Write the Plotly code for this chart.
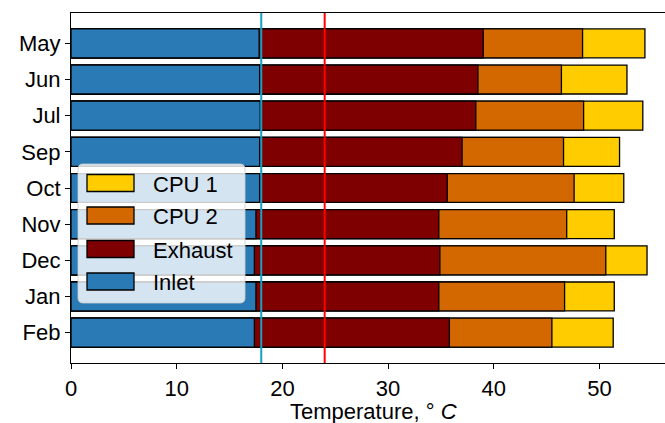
import plotly.graph_objects as go

# ---- data ----
months = ["May", "Jun", "Jul", "Sep", "Oct", "Nov", "Dec", "Jan", "Feb"]
inlet = [17.8, 17.85, 17.9, 17.85, 17.85, 17.5, 17.35, 17.5, 17.35]
exhaust = [39.0, 38.5, 38.3, 37.0, 35.6, 34.8, 34.9, 34.8, 35.8]
cpu2 = [48.4, 46.4, 48.5, 46.6, 47.6, 46.9, 50.6, 46.7, 45.5]
cpu1 = [54.3, 52.6, 54.1, 51.9, 52.3, 51.4, 54.5, 51.4, 51.3]
series_names = ["CPU 1", "CPU 2", "Exhaust", "Inlet"]
series_values = [cpu1, cpu2, exhaust, inlet]
ref_lines = [18, 24]
x_ticks = [0, 10, 20, 30, 40, 50]
x_title = "Temperature, ° <i>C</i>"

colors = {"CPU 1": "#ffcc00", "CPU 2": "#d46800", "Exhaust": "#7f0000", "Inlet": "#2a7ab5"}
line_colors = ["#17a0c4", "#ff0000"]

W, H = 665, 423
L, R, T, B = 71, 0, 13, 60
FONT = "Liberation Sans, Arial, Helvetica, sans-serif"
FS = 22

fig = go.Figure()
for name, vals in zip(series_names, series_values):
    fig.add_trace(go.Bar(
        y=months, x=vals, orientation="h", name=name,
        marker=dict(color=colors[name], line=dict(color="black", width=1.3)),
        showlegend=False,
    ))

shapes = []
for v, c in zip(ref_lines, line_colors):
    shapes.append(dict(type="line", xref="x", yref="paper", x0=v, x1=v, y0=0, y1=1,
                       line=dict(color=c, width=2), layer="above"))

# custom legend (pixel layout -> paper coords)
pw = W - L - R
ph = H - T - B
def px2x(px):
    return (px - L) / pw
def py2y(py):
    return (H - B - py) / ph

lx0, lx1, ly0, ly1 = 78, 245, 164, 303
r = 5
rx, ry = r / pw, r / ph
X0, X1, Y0, Y1 = px2x(lx0), px2x(lx1), py2y(ly1), py2y(ly0)
path = (f"M {X0+rx},{Y0} L {X1-rx},{Y0} Q {X1},{Y0} {X1},{Y0+ry} "
        f"L {X1},{Y1-ry} Q {X1},{Y1} {X1-rx},{Y1} L {X0+rx},{Y1} "
        f"Q {X0},{Y1} {X0},{Y1-ry} L {X0},{Y0+ry} Q {X0},{Y0} {X0+rx},{Y0} Z")
shapes.append(dict(type="path", xref="paper", yref="paper", path=path,
                   fillcolor="rgba(255,255,255,0.8)", line=dict(color="rgba(204,204,204,0.8)", width=1),
                   layer="above"))

annotations = []
centers = [183, 215.5, 249, 281.5]
for name, cy in zip(series_names, centers):
    shapes.append(dict(type="rect", xref="paper", yref="paper",
                       x0=px2x(87), x1=px2x(134), y0=py2y(cy + 8.5), y1=py2y(cy - 8.5),
                       fillcolor=colors[name], line=dict(color="black", width=1.3), layer="above"))
    annotations.append(dict(xref="paper", yref="paper", x=px2x(151), y=py2y(cy + 1),
                            text=name, showarrow=False, xanchor="left", yanchor="middle",
                            font=dict(family=FONT, size=FS, color="black")))

# x-axis title as annotation centred under the visible axis
annotations.append(dict(xref="paper", yref="paper", x=px2x(288), y=py2y(411),
                        text=x_title, showarrow=False, xanchor="left", yanchor="middle",
                        font=dict(family=FONT, size=FS, color="black")))

fig.update_layout(
    width=W, height=H,
    margin=dict(l=L, r=R, t=T, b=B, pad=0, autoexpand=False),
    paper_bgcolor="white", plot_bgcolor="white",
    barmode="overlay", bargap=0.2,
    font=dict(family=FONT, size=FS, color="black"),
    shapes=shapes, annotations=annotations,
    xaxis=dict(range=[0, 56.2], tickvals=x_ticks, ticks="outside", ticklen=5, tickwidth=1.2,
               tickcolor="black", showline=True, linecolor="black", linewidth=1.2, mirror=True,
               showgrid=False, zeroline=False, automargin=False,
               tickfont=dict(family=FONT, size=FS, color="black")),
    yaxis=dict(type="category", categoryorder="array", categoryarray=months,
               range=[8.84, -0.84], ticks="outside", ticklen=5, tickwidth=1.2,
               tickcolor="black", showline=True, linecolor="black", linewidth=1.2, mirror=False,
               showgrid=False, zeroline=False, automargin=False,
               tickfont=dict(family=FONT, size=FS, color="black")),
)

fig.write_html("out.html", config={"displayModeBar": False},
               post_script="document.body.style.margin='0';document.body.style.overflow='hidden';")
